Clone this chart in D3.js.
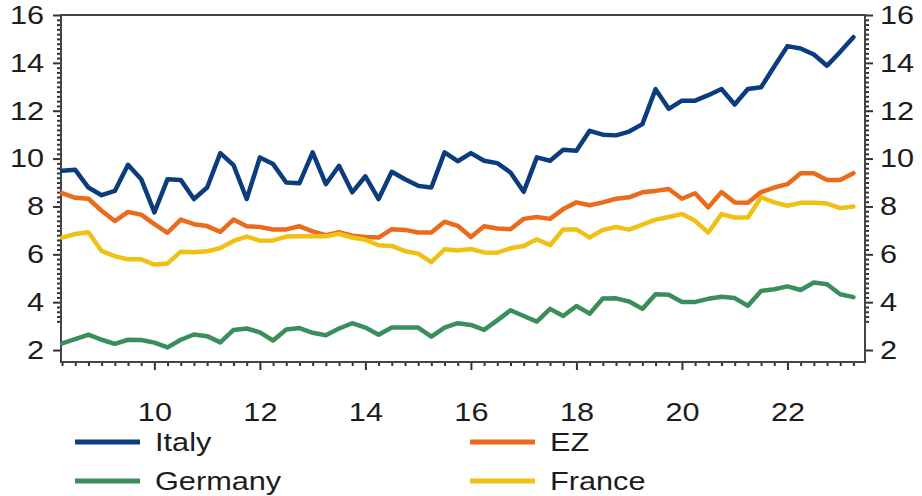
<!DOCTYPE html>
<html><head><meta charset="utf-8">
<script src="https://cdn.jsdelivr.net/npm/d3@7"></script>
<style>
body{margin:0;background:#fff}
text{font-family:"Liberation Sans",Arial,sans-serif;fill:#1c1c1c}
</style></head>
<body><svg id="c" width="922" height="496"></svg>
<script>
// quarterly observations, 2008 Q2 .. 2023 Q2 (x = years since 2000)
const quarters = d3.range(61).map(i => 8.25 + i * 0.25);
const italy = [9.49,9.53,8.79,8.47,8.65,9.74,9.14,7.75,9.14,9.11,
  8.31,8.79,10.23,9.73,8.31,10.05,9.77,9.00,8.97,10.26,
  8.93,9.70,8.59,9.26,8.31,9.45,9.14,8.86,8.79,10.26,
  9.89,10.23,9.91,9.81,9.42,8.61,10.05,9.91,10.37,10.33,
  11.16,11.0,10.97,11.13,11.44,12.9,12.08,12.42,12.42,12.65,
  12.91,12.26,12.91,12.98,13.85,14.7,14.6,14.35,13.88,14.46,15.07];
const ez = [8.56,8.36,8.32,7.82,7.39,7.77,7.66,7.26,6.90,7.45,
  7.26,7.18,6.94,7.45,7.17,7.14,7.04,7.04,7.17,6.96,
  6.80,6.92,6.78,6.72,6.70,7.05,7.02,6.91,6.91,7.36,
  7.19,6.72,7.17,7.08,7.05,7.48,7.56,7.48,7.89,8.17,
  8.05,8.17,8.32,8.38,8.59,8.65,8.73,8.32,8.55,7.96,
  8.60,8.17,8.15,8.60,8.79,8.93,9.39,9.39,9.11,9.11,9.39];
const france = [6.70,6.85,6.92,6.14,5.92,5.79,5.79,5.57,5.62,6.11,
  6.09,6.13,6.26,6.56,6.74,6.57,6.58,6.74,6.75,6.75,
  6.75,6.86,6.70,6.61,6.38,6.35,6.13,6.03,5.67,6.21,
  6.16,6.22,6.08,6.07,6.25,6.35,6.63,6.38,7.04,7.04,
  6.70,7.02,7.14,7.03,7.24,7.45,7.56,7.68,7.40,6.91,
  7.68,7.54,7.54,8.38,8.17,8.03,8.15,8.15,8.12,7.93,8.00];
const germany = [2.28,2.46,2.64,2.43,2.26,2.43,2.42,2.31,2.11,2.43,
  2.65,2.58,2.32,2.84,2.90,2.74,2.40,2.86,2.92,2.72,
  2.62,2.90,3.12,2.94,2.64,2.94,2.94,2.94,2.56,2.94,
  3.12,3.05,2.84,3.24,3.66,3.42,3.19,3.72,3.42,3.84,
  3.52,4.15,4.16,4.03,3.72,4.33,4.31,4.01,4.01,4.14,
  4.23,4.17,3.85,4.47,4.54,4.66,4.51,4.82,4.75,4.33,4.21];
const yTicks = [2,4,6,8,10,12,14,16];
const xTicks = [10,12,14,16,18,20,22];
const seriesNames = ["Italy","EZ","Germany","France"];
const seriesColors = {Italy:"#0b3d7e", EZ:"#ec6a1c", Germany:"#3a8e5c", France:"#f0c012"};
const seriesData = {Italy:italy, EZ:ez, Germany:germany, France:france};

const svg = d3.select("#c");
const x = d3.scaleLinear().domain([8.23, 23.47]).range([61, 865]);
const y = d3.scaleLinear().domain([1.5, 16]).range([362, 15]);

function styleAxis(g){
  g.select(".domain").remove();
  g.selectAll("line").attr("stroke","#333").attr("stroke-width",2);
  g.selectAll("text").attr("font-size",26).attr("fill","#1c1c1c")
    .attr("font-family",'"Liberation Sans",Arial,sans-serif');
}
const minorY = d3.range(16, 80).map(v => v / 5).filter(v => !yTicks.includes(v));
const minorX = quarters.filter(v => !xTicks.includes(v));

// left axis
svg.append("g").attr("transform","translate(61,0)")
  .call(d3.axisLeft(y).tickValues(minorY).tickSize(4).tickFormat("")).call(styleAxis);
svg.append("g").attr("transform","translate(61,0)")
  .call(d3.axisLeft(y).tickValues(yTicks).tickSize(8).tickPadding(9).tickFormat(d3.format("d"))).call(styleAxis);
// right axis
svg.append("g").attr("transform","translate(865,0)")
  .call(d3.axisRight(y).tickValues(minorY).tickSize(4).tickFormat("")).call(styleAxis);
svg.append("g").attr("transform","translate(865,0)")
  .call(d3.axisRight(y).tickValues(yTicks).tickSize(8).tickPadding(7).tickFormat(d3.format("d"))).call(styleAxis);
// bottom axis
svg.append("g").attr("transform","translate(0,362)")
  .call(d3.axisBottom(x).tickValues(minorX).tickSize(4).tickFormat("")).call(styleAxis);
svg.append("g").attr("transform","translate(0,362)")
  .call(d3.axisBottom(x).tickValues(xTicks).tickSize(8).tickPadding(33).tickFormat(d3.format("d"))).call(styleAxis);

// frame
svg.append("rect").attr("x",61).attr("y",15).attr("width",804).attr("height",347)
  .attr("fill","none").attr("stroke","#444").attr("stroke-width",2);

const line = d3.line().x((d,i) => x(quarters[i])).y(d => y(d));
["Italy","Germany","EZ","France"].forEach(name => {
  svg.append("path").datum(seriesData[name]).attr("d", line)
    .attr("fill","none").attr("stroke", seriesColors[name])
    .attr("stroke-width",4.5).attr("stroke-linejoin","round").attr("stroke-linecap","round");
});

// legend
const legendPos = {Italy:[75,442], EZ:[470,442], Germany:[75,481], France:[470,481]};
seriesNames.forEach(name => {
  const [lx, ly] = legendPos[name];
  svg.append("line").attr("x1",lx).attr("x2",lx+65).attr("y1",ly).attr("y2",ly)
    .attr("stroke", seriesColors[name]).attr("stroke-width",5);
  svg.append("text").attr("x",lx+80).attr("y",ly+9).attr("font-size",26).text(name);
});

// the original's lettering is set wider than Liberation Sans at the same height
svg.selectAll("text").each(function(){
  const L = this.getComputedTextLength();
  if (L > 0) {
    this.setAttribute("textLength", (L * 1.18).toFixed(1));
    this.setAttribute("lengthAdjust", "spacingAndGlyphs");
  }
});
</script></body></html>
